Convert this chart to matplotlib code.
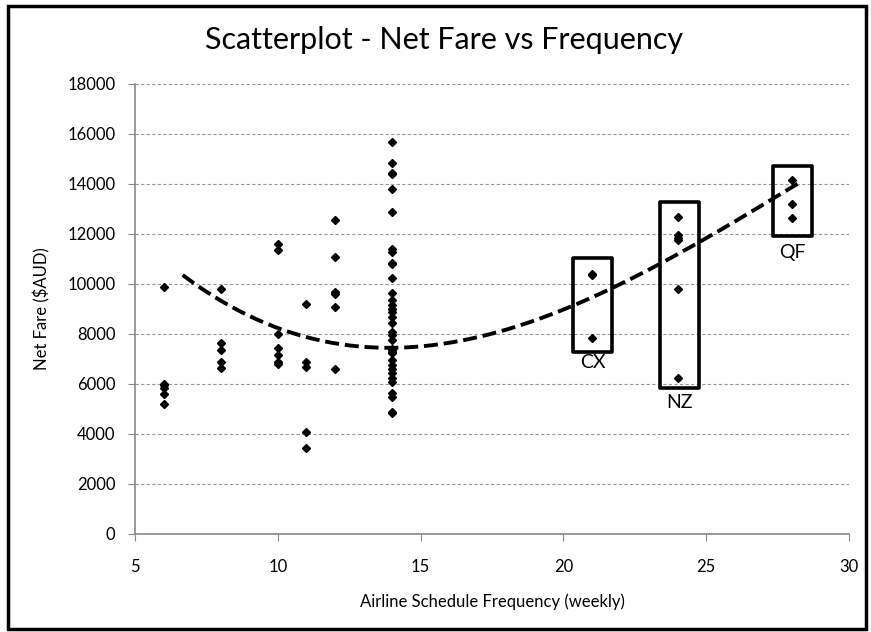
import matplotlib
matplotlib.use('Agg')
import matplotlib.pyplot as plt
from matplotlib.patches import Rectangle
import numpy as np

plt.rcParams['font.family'] = ['Lato', 'Open Sans', 'DejaVu Sans']

# weekly frequency -> net fares
freq_6 = [9900, 6000, 5950, 5850, 5600, 5200]
freq_8 = [9800, 7650, 7350, 6900, 6650]
freq_10 = [11600, 11350, 8000, 7450, 7150, 6900, 6800]
freq_11 = [9200, 6900, 6700, 4100, 3450]
freq_12 = [12550, 11100, 9700, 9600, 9100, 6600]
freq_14 = [15700, 14850, 14450, 14400, 13800, 12900, 11400, 11300, 10850, 10800,
           10250, 9650, 9350, 9150, 9000, 8900, 8700, 8450, 8100, 7950, 7750,
           7400, 7350, 7300, 7250, 6950, 6750, 6600, 6450, 6250, 6100, 5650,
           5500, 4900, 4850]
freq_21 = [10400, 10350, 7850]   # CX
freq_24 = [12700, 11950, 11850, 11750, 9800, 6250]   # NZ
freq_28 = [14150, 13200, 12650]  # QF

groups = {6: freq_6, 8: freq_8, 10: freq_10, 11: freq_11, 12: freq_12,
          14: freq_14, 21: freq_21, 24: freq_24, 28: freq_28}

# points read along the excel trendline
trend_x = [6.67, 7.98, 9.96, 11.83, 13.93, 14.98, 16.5, 17.43, 19.18, 20.35,
           21.75, 23.38, 24.67, 27.35, 28.23]
trend_y = [10190, 9490, 8360, 7760, 7390, 7400, 7690, 7960, 8630, 9090,
           9890, 10890, 11690, 13430, 13960]

# highlight boxes: label, x0, x1, y0, y1, label y
boxes = [('CX', 20.35, 21.7, 7270, 11050, 6850),
         ('NZ', 23.38, 24.74, 5830, 13290, 5280),
         ('QF', 27.33, 28.7, 11920, 14720, 11250)]

xs = np.concatenate([[k] * len(v) for k, v in groups.items()])
ys = np.concatenate([v for v in groups.values()])

fig = plt.figure(figsize=(8.71, 6.32), dpi=100)
ax = fig.add_axes([135 / 871, 1 - 534 / 632, (849 - 135) / 871, (534 - 84) / 632])

ax.plot(xs, ys, 'D', color='black', markersize=4.5, zorder=4)

coef = np.polyfit(trend_x, trend_y, 3)
tx = np.linspace(trend_x[0], trend_x[-1], 200)
ax.plot(tx, np.polyval(coef, tx), '--', color='black', linewidth=2.8,
        dashes=(3.6, 1.5), zorder=3)

for name, x0, x1, y0, y1, ly in boxes:
    ax.add_patch(Rectangle((x0, y0), x1 - x0, y1 - y0, fill=False,
                           edgecolor='black', linewidth=2.6, zorder=5,
                           joinstyle='round'))
    ax.text((x0 + x1) / 2, ly, name, ha='center', va='center', fontsize=14)

ax.set_xlim(5, 30)
ax.set_ylim(0, 18000)
ax.set_xticks(range(5, 31, 5))
ax.set_yticks(range(0, 18001, 2000))
ax.yaxis.grid(True, linestyle='--', color='#999999', linewidth=0.8, dashes=(3, 2))
ax.set_axisbelow(True)
for s in ['top', 'right']:
    ax.spines[s].set_visible(False)
for s in ['left', 'bottom']:
    ax.spines[s].set_color('#888888')
    ax.spines[s].set_linewidth(1.2)
ax.tick_params(axis='both', colors='#888888', labelcolor='black', labelsize=12, length=5)
ax.tick_params(axis='x', pad=13)
ax.tick_params(axis='y', pad=9)

fig.text(444 / 871, 1 - 40 / 632, 'Scatterplot - Net Fare vs Frequency',
         ha='center', va='center', fontsize=22)
ax.set_xlabel('Airline Schedule Frequency (weekly)', fontsize=12, labelpad=13)
ax.set_ylabel('Net Fare ($AUD)', fontsize=12, labelpad=12)

fig.patches.append(Rectangle((8 / 871, 3 / 632), 858 / 871, 623 / 632,
                             transform=fig.transFigure, fill=False,
                             edgecolor='black', linewidth=2.5))

plt.savefig('out.png', dpi=100)
